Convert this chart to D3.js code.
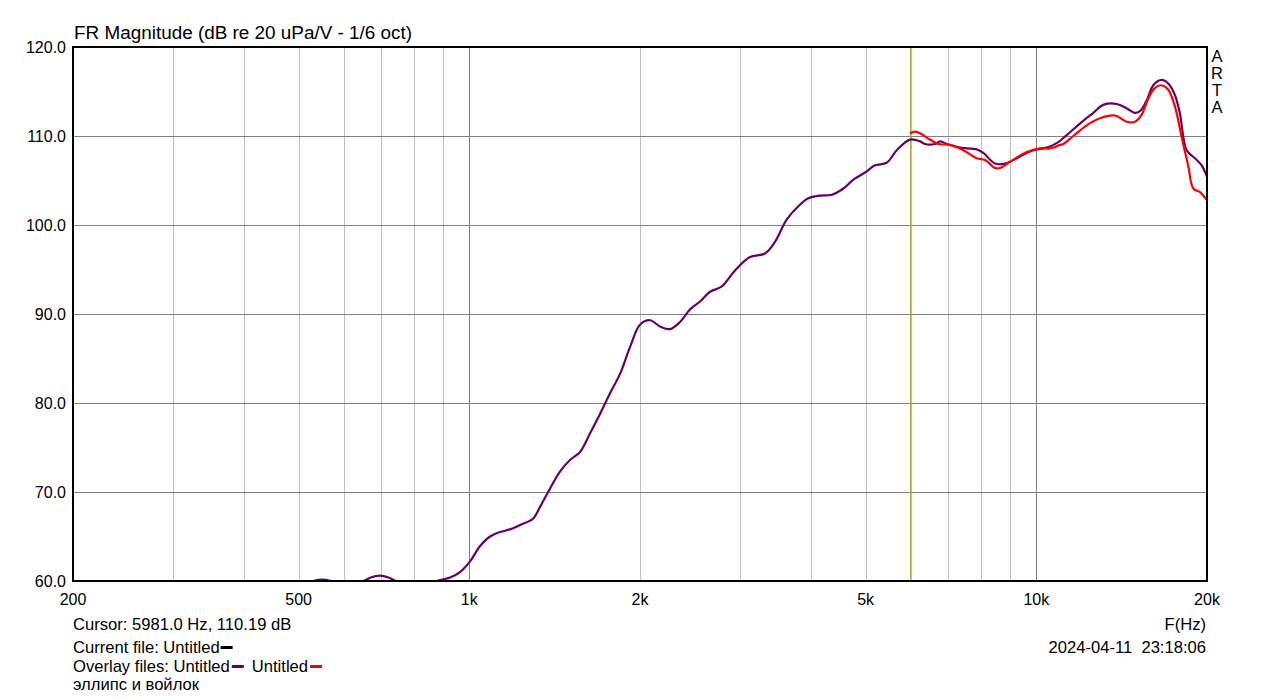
<!DOCTYPE html>
<html><head><meta charset="utf-8">
<script src="https://cdn.jsdelivr.net/npm/d3@7/dist/d3.min.js"></script>
<style>body{margin:0;background:#fff}svg{display:block}text{font-family:Arial,"Liberation Sans",sans-serif}</style>
</head><body>
<svg id="c" width="1279" height="699"></svg>
<script>
const xTickValues = [200, 500, 1000, 2000, 5000, 10000, 20000];
const xTickLabels = ["200", "500", "1k", "2k", "5k", "10k", "20k"];
const xMinorGrid = [300,400,500,600,700,800,900,2000,3000,4000,5000,6000,7000,8000,9000];
const xMajorGrid = [1000, 10000];
const yTickValues = [60, 70, 80, 90, 100, 110, 120];
const yTickLabels = ["60.0","70.0","80.0","90.0","100.0","110.0","120.0"];
const cursorFreq = 5981;

const purpleFreq = [200,300,400,480,520,550,580,620,650,670,696,720,745,780,840,888,925,963,1003,1044,1088,1133,1180,1229,1295,1332,1388,1445,1505,1568,1633,1701,1771,1845,1921,2000,2083,2169,2259,2353,2450,2552,2658,2788,2942,3126,3322,3460,3628,3804,3962,4155,4357,4568,4757,4988,5195,5447,5673,5988,6236,6363,6627,6763,6949,7334,7851,8064,8456,8806,9360,9880,10432,10864,11314,11940,12604,13126,13862,14436,14928,15234,15654,16080,16636,17088,17560,17920,18414,19048,19574,20000];
const purpleDb = [55,57,58.5,59.5,59.9,60.15,59.9,59.5,59.95,60.4,60.6,60.4,59.95,59.6,59.7,60.1,60.4,61.0,62.2,63.9,65.0,65.5,65.8,66.3,67.0,68.3,70.4,72.3,73.6,74.5,76.6,78.8,81.1,83.3,86.3,88.8,89.3,88.6,88.3,89.1,90.5,91.4,92.5,93.1,94.9,96.4,96.8,98.1,100.6,102.1,103.0,103.3,103.4,104.1,105.1,105.9,106.7,107.0,108.4,109.6,109.4,109.1,109.1,109.4,109.1,108.7,108.5,108.1,106.9,106.9,107.7,108.4,108.7,109.2,110.1,111.4,112.6,113.5,113.6,113.1,112.6,112.8,114.0,115.7,116.3,115.9,114.6,112.5,108.4,107.5,106.7,105.4];

const redFreq = [5988,6110,6236,6494,6716,7043,7436,7851,8119,8456,8629,8987,9618,10152,10574,11011,11161,11620,12268,12952,13766,14436,14928,15340,15758,16192,16636,17088,17560,18044,18536,18918,19440,20000];
const redDb = [110.3,110.5,110.3,109.6,109.1,109.0,108.4,107.5,107.3,106.4,106.4,107.1,108.2,108.6,108.6,109.0,109.1,110.0,111.2,112.0,112.3,111.6,111.6,112.4,114.2,115.4,115.7,115.2,113.3,109.9,106.6,104.1,103.7,102.8];

const L = 73, R = 1207, T = 47, B = 581;
const svg = d3.select("#c");
const x = d3.scaleLog().domain([200, 20000]).range([L, R]);
const y = d3.scaleLinear().domain([60, 120]).range([B, T]);

svg.append("defs").append("clipPath").attr("id","clip")
  .append("rect").attr("x",L).attr("y",T).attr("width",R-L).attr("height",B-T);

const g = svg.append("g");
g.selectAll(".vmin").data(xMinorGrid).join("line")
  .attr("x1", d=>Math.round(x(d))+0.5).attr("x2", d=>Math.round(x(d))+0.5)
  .attr("y1", T).attr("y2", B).attr("stroke", "#c0c0c0").attr("stroke-width", 1);
g.selectAll(".vmaj").data(xMajorGrid).join("line")
  .attr("x1", d=>Math.round(x(d))+0.5).attr("x2", d=>Math.round(x(d))+0.5)
  .attr("y1", T).attr("y2", B).attr("stroke", "#808080").attr("stroke-width", 1);
g.selectAll(".h").data(yTickValues.slice(1,-1)).join("line")
  .attr("y1", d=>Math.round(y(d))+0.5).attr("y2", d=>Math.round(y(d))+0.5)
  .attr("x1", L).attr("x2", R).attr("stroke", "#808080").attr("stroke-width", 1);

g.append("line").attr("x1", Math.round(x(cursorFreq))+0.5).attr("x2", Math.round(x(cursorFreq))+0.5)
  .attr("y1", T).attr("y2", B).attr("stroke", "#a8a838").attr("stroke-width", 1);

const lineGen = d3.line().x(d=>x(d[0])).y(d=>y(d[1])).curve(d3.curveCatmullRom.alpha(0.5));
const purple = purpleFreq.map((f,i)=>[f, purpleDb[i]]);
const red = redFreq.map((f,i)=>[f, redDb[i]]);
const cg = svg.append("g").attr("clip-path","url(#clip)");
cg.append("path").datum(purple).attr("d", lineGen).attr("fill","none").attr("stroke","#660066").attr("stroke-width",2.2);
cg.append("path").datum(red).attr("d", lineGen).attr("fill","none").attr("stroke","#ff0000").attr("stroke-width",2.2);

svg.append("rect").attr("x",L).attr("y",T).attr("width",R-L).attr("height",B-T)
  .attr("fill","none").attr("stroke","#000").attr("stroke-width",2);

svg.selectAll(".yl").data(yTickValues).join("text")
  .attr("x", 66).attr("y", d=>y(d)+6).attr("text-anchor","end")
  .attr("font-size", 16).attr("fill","#000").text((d,i)=>yTickLabels[i]);
svg.selectAll(".xl").data(xTickValues).join("text")
  .attr("x", d=>x(d)).attr("y", 605).attr("text-anchor","middle")
  .attr("font-size", 16).attr("fill","#000").text((d,i)=>xTickLabels[i]);

svg.append("text").attr("x",74).attr("y",39).attr("font-size",18.9).text("FR Magnitude (dB re 20 uPa/V - 1/6 oct)");

["A","R","T","A"].forEach((c,i)=>{
  svg.append("text").attr("x",1217).attr("y",[62,79,96,113][i]).attr("text-anchor","middle")
    .attr("font-size",16.5).text(c);
});

const fs = 16.6;
svg.append("text").attr("x",73).attr("y",630).attr("font-size",fs).text("Cursor: 5981.0 Hz, 110.19 dB");
const t1 = svg.append("text").attr("x",73).attr("y",653).attr("font-size",fs).text("Current file: Untitled");
let w = t1.node().getComputedTextLength();
svg.append("rect").attr("x",73+w+1).attr("y",646).attr("width",12).attr("height",3).attr("fill","#000");
const t2 = svg.append("text").attr("x",73).attr("y",672).attr("font-size",fs).text("Overlay files: Untitled");
w = t2.node().getComputedTextLength();
svg.append("rect").attr("x",73+w+2).attr("y",665).attr("width",12).attr("height",3).attr("fill","#660066");
const t3x = 73+w+22;
const t3 = svg.append("text").attr("x",t3x).attr("y",672).attr("font-size",fs).text("Untitled");
const w3 = t3.node().getComputedTextLength();
svg.append("rect").attr("x",t3x+w3+2).attr("y",665).attr("width",12).attr("height",3).attr("fill","#ff0000");
svg.append("text").attr("x",73).attr("y",690).attr("font-size",fs).text("эллипс и войлок");

svg.append("text").attr("x",1206).attr("y",630).attr("text-anchor","end").attr("font-size",fs).text("F(Hz)");
svg.append("text").attr("x",1206).attr("y",653).attr("text-anchor","end").attr("font-size",fs).style("white-space","pre").text("2024-04-11  23:18:06");
</script>
</body></html>
